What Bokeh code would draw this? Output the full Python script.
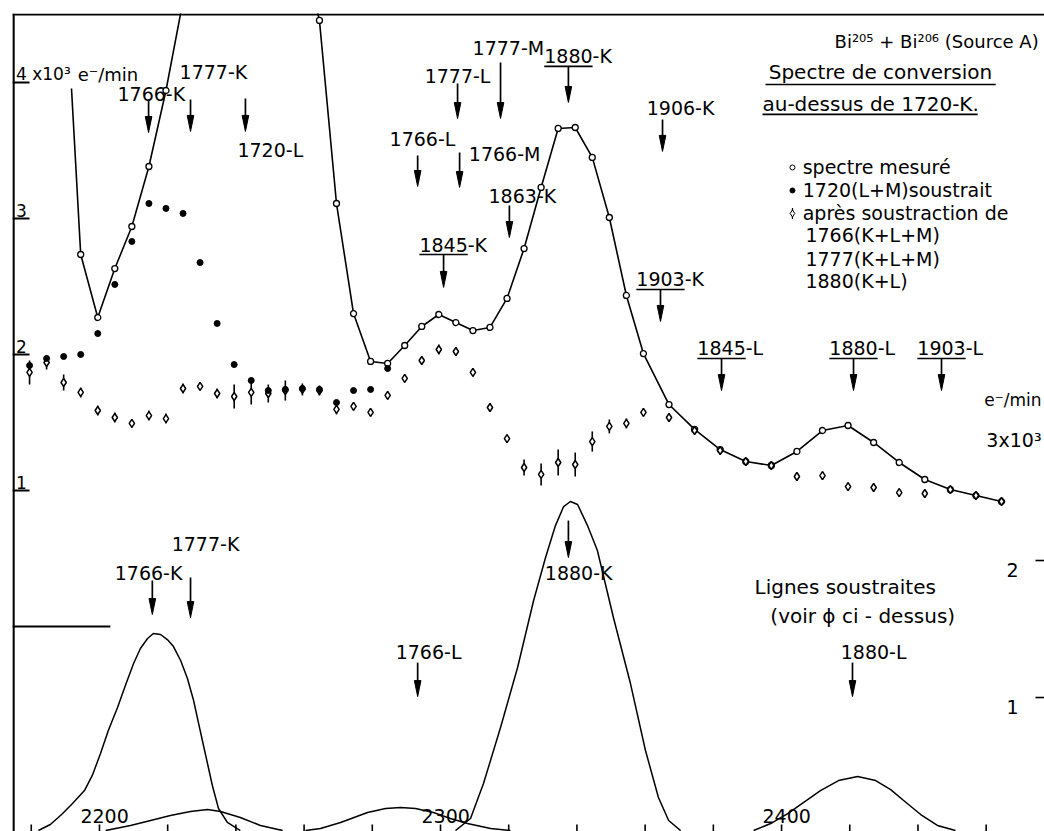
from bokeh.plotting import figure
from bokeh.models import Range1d
from bokeh.core.properties import value
from bokeh.embed import file_html
from bokeh.resources import INLINE

# ---------------- data ----------------
x_ticks = [2180, 2200, 2220, 2240, 2260, 2280, 2300, 2320, 2340, 2360, 2380, 2400, 2420, 2440, 2460]
x_label_vals = [2200, 2300, 2400]
x_label_txt = ["2200", "2300", "2400"]
upper_ticks = [1, 2, 3, 4]
upper_tick_txt = ["1", "2", "3", "4 x10³"]
lower_ticks = [1, 2]
lower_tick_txt = ["1", "2"]

# measured spectrum (open circles joined by the curve), units 10^3 e-/min
meas_E = [2194.5, 2199.5, 2204.5, 2209.5, 2214.5, 2219.5, 2224.5, 2229.5, 2234.5, 2239.5,
          2244.5, 2249.5, 2254.5, 2259.5, 2264.5, 2269.5, 2274.5, 2279.5, 2284.5, 2289.5,
          2294.5, 2299.5, 2304.5, 2309.5, 2314.5, 2319.5, 2324.5, 2329.5, 2334.5, 2339.5,
          2344.5, 2349.5, 2354.5, 2359.5, 2367.0, 2374.5, 2382.0, 2389.5, 2397.0, 2404.5,
          2412.0, 2419.5, 2427.0, 2434.5, 2442.0, 2449.5, 2457.0, 2464.5]
meas_v = [2.735, 2.272, 2.632, 2.941, 3.382, 3.941, 4.60, 5.6, 6.4, 6.9,
          7.0, 6.6, 5.9, 5.0, 4.456, 3.110, 2.301, 1.949, 1.934, 2.066,
          2.206, 2.294, 2.235, 2.176, 2.199, 2.412, 2.779, 3.228, 3.662, 3.669,
          3.449, 3.007, 2.434, 2.007, 1.632, 1.449, 1.301, 1.213, 1.184, 1.287,
          1.441, 1.478, 1.353, 1.206, 1.081, 1.007, 0.963, 0.919]
curve_start_E = [2191.8]
curve_start_v = [3.956]

# 1720(L+M) subtracted (filled dots)
sub1_E = [2179.5, 2184.5, 2189.5, 2194.5, 2199.5, 2204.5, 2209.5, 2214.5, 2219.5, 2224.5, 2229.5,
          2234.5, 2239.5, 2244.5, 2249.5, 2254.5, 2259.5, 2264.5, 2269.5, 2274.5, 2279.5, 2284.5]
sub1_v = [1.919, 1.971, 1.985, 2.000, 2.154, 2.515, 2.831, 3.110, 3.074, 3.037, 2.676,
          2.228, 1.926, 1.809, 1.735, 1.743, 1.750, 1.743, 1.647, 1.735, 1.743, 1.897]

# after subtraction of 1766, 1777, 1880 (diamonds with error bars)
sub2_E = [2179.5, 2184.5, 2189.5, 2194.5, 2199.5, 2204.5, 2209.5, 2214.5, 2219.5, 2224.5,
          2229.5, 2234.5, 2239.5, 2244.5, 2249.5, 2254.5, 2259.5, 2264.5, 2269.5, 2274.5,
          2279.5, 2284.5, 2289.5, 2294.5, 2299.5, 2304.5, 2309.5, 2314.5, 2319.5, 2324.5,
          2329.5, 2334.5, 2339.5, 2344.5, 2349.5, 2354.5, 2359.5, 2367.0, 2374.5, 2382.0,
          2389.5, 2397.0, 2404.5, 2412.0, 2419.5, 2427.0, 2434.5, 2442.0, 2449.5, 2457.0, 2464.5]
sub2_v = [1.868, 1.941, 1.794, 1.721, 1.588, 1.537, 1.493, 1.551, 1.529, 1.750,
          1.765, 1.713, 1.691, 1.721, 1.713, 1.735, 1.743, 1.735, 1.596, 1.618,
          1.574, 1.699, 1.824, 1.956, 2.037, 2.022, 1.868, 1.610, 1.382, 1.169,
          1.118, 1.206, 1.191, 1.360, 1.471, 1.493, 1.574, 1.537, 1.441, 1.294,
          1.213, 1.184, 1.103, 1.110, 1.029, 1.022, 0.985, 0.978, 1.007, 0.963, 0.919]
sub2_err = [0.088, 0.051, 0.059, 0.037, 0.037, 0.037, 0.029, 0.037, 0.037, 0.037,
            0.029, 0.037, 0.088, 0.088, 0.066, 0.074, 0.044, 0.037, 0.037, 0.029,
            0.029, 0.029, 0.029, 0.029, 0.037, 0.029, 0.029, 0.029, 0.029, 0.059,
            0.081, 0.096, 0.088, 0.074, 0.051, 0.037, 0.029, 0.029, 0.029, 0.029,
            0.029, 0.029, 0.029, 0.029, 0.029, 0.029, 0.029, 0.029, 0.029, 0.029, 0.029]

# subtracted lines (lower panel, right scale, 10^3 e-/min)
k1766_E = [2182.1, 2185.6, 2188.9, 2192.1, 2195.6, 2197.9, 2200.3, 2202.6, 2205.3, 2207.6,
           2210.0, 2212.0, 2214.1, 2215.8, 2217.9, 2219.9, 2221.7, 2223.8, 2225.8, 2227.6,
           2229.0, 2230.5, 2232.0, 2233.1, 2234.9, 2237.5, 2241.3]
k1766_w = [0.029, 0.073, 0.146, 0.226, 0.321, 0.431, 0.591, 0.759, 0.927, 1.088,
           1.248, 1.358, 1.431, 1.467, 1.460, 1.423, 1.372, 1.270, 1.139, 0.978,
           0.818, 0.650, 0.482, 0.358, 0.190, 0.088, 0.029]
k1777_E = [2201.8, 2209.1, 2215.0, 2220.8, 2226.7, 2231.7, 2235.5, 2241.3, 2247.2, 2253.7]
k1777_w = [0.029, 0.066, 0.102, 0.139, 0.168, 0.182, 0.168, 0.124, 0.066, 0.029]
l1766_E = [2260.4, 2264.8, 2270.7, 2278.6, 2283.9, 2288.3, 2292.7, 2297.9, 2302.9, 2307.9,
           2314.7, 2320.5]
l1766_w = [0.029, 0.044, 0.088, 0.161, 0.190, 0.197, 0.190, 0.161, 0.117, 0.080, 0.044, 0.029]
k1880_E = [2304.4, 2308.8, 2312.6, 2317.6, 2322.6, 2327.3, 2330.8, 2333.7, 2336.1, 2338.1,
           2340.2, 2343.1, 2346.0, 2350.7, 2355.7, 2360.1, 2363.9, 2366.9, 2370.4]
k1880_w = [0.029, 0.117, 0.372, 0.781, 1.219, 1.708, 2.022, 2.255, 2.394, 2.431,
           2.409, 2.255, 2.073, 1.584, 1.102, 0.613, 0.270, 0.102, 0.029]
l1880_E = [2391.8, 2396.8, 2401.8, 2406.5, 2411.4, 2416.7, 2422.3, 2427.6, 2432.0, 2435.8,
           2440.8, 2445.7, 2451.0]
l1880_w = [0.029, 0.080, 0.153, 0.234, 0.321, 0.394, 0.423, 0.394, 0.328, 0.248,
           0.146, 0.066, 0.029]

# line markers (arrows): energy position, top and tip on the left scale
arrow_E = [2214.4, 2226.7, 2242.8, 2317.6, 2337.5, 2305.0, 2293.3, 2305.6, 2320.2, 2300.9,
           2365.1, 2364.5, 2382.4, 2421.1, 2446.9, 2215.5, 2226.7, 2293.3, 2337.5, 2420.8]
arrow_top = [3.875, 3.875, 3.882, 4.147, 4.118, 3.993, 3.463, 3.485, 3.096, 2.735,
             3.728, 2.478, 1.971, 1.971, 1.971, 0.338, 0.360, -0.265, 0.779, -0.265]
arrow_tip = [3.632, 3.640, 3.640, 3.735, 3.853, 3.735, 3.235, 3.228, 2.860, 2.493,
             3.493, 2.243, 1.735, 1.735, 1.735, 0.088, 0.066, -0.515, 0.507, -0.515]

# labels hanging on an underline (underlined number)
ul_text = ["1880-K", "1845-K", "1903-K", "1845-L", "1880-L", "1903-L"]
ul_index = [4, 9, 11, 12, 13, 14]

# free labels
free_text = ["1766-K", "1777-K", "1720-L", "1777-M", "1777-L", "1766-L", "1766-M", "1863-K",
             "1906-K", "1777-K", "1766-K", "1766-L", "1880-K", "1880-L"]
free_E = [2215.2, 2233.4, 2250.1, 2319.9, 2305.0, 2294.7, 2318.8, 2324.0,
          2370.4, 2231.1, 2214.4, 2296.5, 2340.5, 2427.0]
free_v = [3.912, 4.074, 3.507, 4.25, 4.051, 3.581, 3.471, 3.162,
          3.809, 0.610, 0.390, -0.184, 0.397, -0.184]

legend_text = ["spectre mesuré", "1720(L+M)soustrait", "après  soustraction  de",
               "1766(K+L+M)", "1777(K+L+M)", "1880(K+L)"]

# ---------------- figure ----------------
X0, X1 = 2174.5, 2477.1
Y0, Y1 = -1.507, 4.507
W0, W1 = 0.022, 5.993
FW, FH = 1032, 818
sx = (X1 - X0) / FW
sy = (Y1 - Y0) / FH


def w2v(w):
    return Y0 + (w - W0) * (Y1 - Y0) / (W1 - W0)


p = figure(width=1044, height=831, x_range=Range1d(X0, X1), y_range=Range1d(Y0, Y1),
           x_axis_type=None, y_axis_type=None, output_backend="svg", toolbar_location=None,
           min_border_left=12, min_border_top=13, min_border_right=0, min_border_bottom=0)
p.extra_y_ranges = {"lower": Range1d(W0, W1)}
p.outline_line_color = None
p.background_fill_color = "white"
p.border_fill_color = "white"

K = dict(line_color="black")

# frame lines (left and top), ticks
p.segment(x0=[X0 + sx], y0=[Y0], x1=[X0 + sx], y1=[Y1], line_width=2.4, **K)
p.segment(x0=[X0], y0=[Y1 - sy], x1=[X1], y1=[Y1 - sy], line_width=2, **K)
p.segment(x0=[X0] * 4, y0=upper_ticks, x1=[X0 + 17 * sx] * 4, y1=upper_ticks, line_width=2, **K)
p.segment(x0=x_ticks, y0=[Y0] * len(x_ticks), x1=x_ticks, y1=[Y0 + 7 * sy] * len(x_ticks),
          line_width=1.6, **K)
p.segment(x0=[X1 - 9 * sx] * 2, y0=[w2v(t) for t in lower_ticks], x1=[X1] * 2,
          y1=[w2v(t) for t in lower_ticks], line_width=1.6, **K)

FONT = value("DejaVu Sans")


def txt(xs, ys, texts, size=19, align="center"):
    p.text(x=xs, y=ys, text=texts, text_font=FONT, text_font_size=value(f"{size}px"),
           text_align=align, text_baseline="middle", text_color="black")


# lower panel: subtracted lines
for E, w in [(k1766_E, k1766_w), (k1777_E, k1777_w), (l1766_E, l1766_w),
             (k1880_E, k1880_w), (l1880_E, l1880_w)]:
    p.line(E, w, y_range_name="lower", line_width=1.5, line_join="round", **K)

# zero level of the upper scale
p.line([X0, 2203.2], [0, 0], line_width=2, **K)

# upper panel: measured curve
p.line(curve_start_E + meas_E, curve_start_v + meas_v, line_width=1.6, line_join="round", **K)
p.scatter(meas_E, meas_v, marker="circle", size=6, fill_color="white", line_width=1.3, **K)

# after subtraction: error bars + diamonds
p.segment(x0=sub2_E, y0=[v - e for v, e in zip(sub2_v, sub2_err)],
          x1=sub2_E, y1=[v + e for v, e in zip(sub2_v, sub2_err)], line_width=1.6, **K)
p.scatter(sub2_E, sub2_v, marker="diamond", size=8, fill_color="white", line_width=1.5, **K)

# 1720(L+M) subtracted: filled dots
p.scatter(sub1_E, sub1_v, marker="circle", size=6, fill_color="black", **K)

# arrows
hl, hw = 16 * sy, 3.3 * sx
p.segment(x0=arrow_E, y0=arrow_top, x1=arrow_E, y1=[t + 0.5 * hl for t in arrow_tip],
          line_width=1.7, **K)
p.patches(xs=[[e - hw, e, e + hw] for e in arrow_E],
          ys=[[t + hl, t, t + hl] for t in arrow_tip],
          fill_color="black", line_width=1, **K)

# underlined labels
dig_w = 4 * 0.636 * 19
ul_left = [arrow_E[i] - 0.5 * dig_w * sx for i in ul_index]
ul_v = [arrow_top[i] for i in ul_index]
txt(ul_left, [v + 10 * sy for v in ul_v], ul_text, align="left")
p.segment(x0=ul_left, y0=ul_v, x1=[l + dig_w * sx for l in ul_left], y1=ul_v,
          line_width=1.6, **K)

# free labels
txt(free_E, free_v, free_text)

# axis labels drawn inside the frame
txt([X0 + 3.5 * sx] * len(upper_ticks), [t + 8 * sy for t in upper_ticks], upper_tick_txt,
    size=17, align="left")
txt([2193.6], [4 + 8 * sy], ["e⁻/min"], size=18, align="left")
txt([v + 1.5 for v in x_label_vals], [Y0 + 16 * sy] * 3, x_label_txt)
txt([2467.7] * 2, [w2v(t) - 9 * sy for t in lower_ticks], lower_tick_txt)
txt([X1 - 3 * sx], [1.662], ["e⁻/min"], size=17, align="right")
txt([X1 - 3 * sx], [1.368], ["3x10³"], size=19, align="right")

# title block
txt([2475.4], [4.301], ["Bi²⁰⁵ + Bi²⁰⁶ (Source A)"], size=18, align="right")
txt([2429.0], [4.074], ["Spectre de conversion"], size=20)
p.segment(x0=[2395.3], y0=[3.985], x1=[2462.8], y1=[3.985], line_width=1.6, **K)
txt([2394.4], [3.838], ["au-dessus  de 1720-K."], size=20, align="left")
p.segment(x0=[2394.4], y0=[3.765], x1=[2457.5], y1=[3.765], line_width=1.6, **K)

# legend
leg_v = [3.375, 3.206, 3.037, 2.875, 2.699, 2.537]
sym_E = 2403.2
p.scatter([sym_E], [leg_v[0]], marker="circle", size=5, fill_color="white", **K)
p.scatter([sym_E], [leg_v[1]], marker="circle", size=5, fill_color="black", **K)
p.segment(x0=[sym_E], y0=[leg_v[2] - 0.04], x1=[sym_E], y1=[leg_v[2] + 0.04], line_width=1.2, **K)
p.scatter([sym_E], [leg_v[2]], marker="diamond", size=7, fill_color="white", **K)
txt([2406.2] * 3, leg_v[:3], legend_text[:3], size=19, align="left")
txt([2407.0] * 3, leg_v[3:], legend_text[3:], size=19, align="left")

# lower panel captions
txt([2419.6], [0.287], ["Lignes  soustraites"], size=20)
txt([2423.8], [0.081], ["(voir ϕ ci - dessus)"], size=20)

open("out.html", "w").write(file_html(p, INLINE))
